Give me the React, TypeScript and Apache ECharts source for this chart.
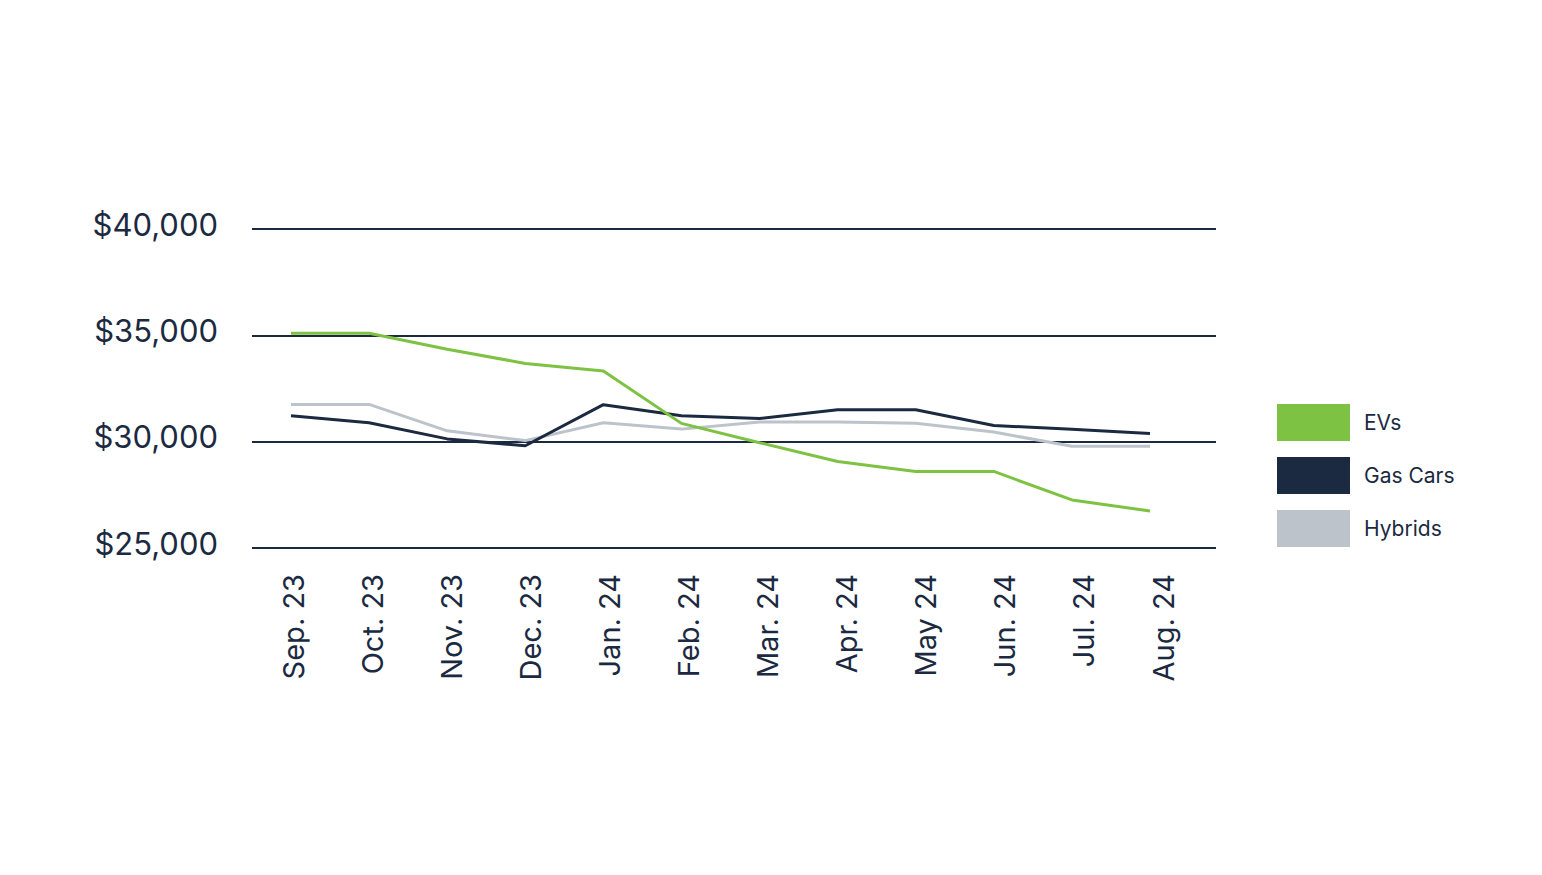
import { useEffect, useRef } from 'react'
import * as echarts from 'echarts'

const months = [
  'Sep. 23', 'Oct. 23', 'Nov. 23', 'Dec. 23', 'Jan. 24', 'Feb. 24',
  'Mar. 24', 'Apr. 24', 'May 24', 'Jun. 24', 'Jul. 24', 'Aug. 24',
]
const evPrices = [35100, 35100, 34350, 33680, 33320, 30860, 29950, 29070, 28600, 28600, 27260, 26740]
const gasPrices = [31220, 30890, 30130, 29810, 31740, 31220, 31090, 31500, 31500, 30760, 30580, 30380]
const hybridPrices = [31750, 31750, 30510, 30050, 30890, 30590, 30920, 30920, 30870, 30450, 29780, 29780]
const yTicks = [25000, 30000, 35000, 40000]

const NAVY = '#1b2a41'
const GREEN = '#7dc242'
const GRAY = '#bcc3cb'
const FONT = 'Inter, "Noto Sans", sans-serif'

export default function App() {
  const ref = useRef<HTMLDivElement | null>(null)

  useEffect(() => {
    if (!ref.current) return
    const chart = echarts.init(ref.current, undefined, { renderer: 'svg' })

    const line = (name: string, data: number[], color: string) => ({
      name,
      type: 'line' as const,
      xAxisIndex: 1,
      yAxisIndex: 1,
      data,
      symbol: 'none',
      lineStyle: { color, width: 3 },
      itemStyle: { color },
      z: name === 'EVs' ? 4 : 3,
    })

    const hiddenY = (gridIndex: number) => ({
      gridIndex,
      type: 'value' as const,
      min: yTicks[0],
      max: yTicks[yTicks.length - 1],
      show: false,
    })

    chart.setOption({
      animation: false,
      backgroundColor: '#ffffff',
      textStyle: { fontFamily: FONT, color: NAVY },
      grid: [
        // gridlines + y labels
        { left: 252, right: 326, top: 229, bottom: 327 },
        // data lines
        { left: 291, right: 392, top: 229, bottom: 327 },
        // month labels
        { left: 293, right: 379, top: 229, bottom: 327 },
      ],
      xAxis: [
        { gridIndex: 0, type: 'value', show: false, min: 0, max: 1 },
        { gridIndex: 1, type: 'category', data: months, boundaryGap: false, show: false },
        {
          gridIndex: 2,
          type: 'category',
          data: months,
          boundaryGap: false,
          axisLine: { show: false },
          axisTick: { show: false },
          splitLine: { show: false },
          axisLabel: {
            rotate: 90,
            margin: 26,
            fontSize: 29,
            color: NAVY,
            fontFamily: FONT,
            interval: 0,
          },
        },
      ],
      yAxis: [
        {
          gridIndex: 0,
          type: 'value',
          min: yTicks[0],
          max: yTicks[yTicks.length - 1],
          interval: 5000,
          axisLine: { show: false },
          axisTick: { show: false },
          axisLabel: {
            margin: 34,
            color: NAVY,
            fontFamily: FONT,
            formatter: (v: number) => '{p|$' + v.toLocaleString('en-US') + '}',
            rich: {
              p: { fontSize: 31, color: NAVY, fontFamily: FONT, padding: [0, 0, 10, 0] },
            },
          },
          splitLine: { show: true, lineStyle: { color: NAVY, width: 2 } },
        },
        hiddenY(1),
        hiddenY(2),
      ],
      legend: {
        orient: 'vertical',
        left: 1277,
        top: 404,
        padding: 0,
        itemWidth: 73,
        itemHeight: 37,
        itemGap: 16,
        icon: 'rect',
        textStyle: { fontSize: 21, color: NAVY, fontFamily: FONT, padding: [0, 0, 0, 9] },
        data: ['EVs', 'Gas Cars', 'Hybrids'],
      },
      series: [
        line('Hybrids', hybridPrices, GRAY),
        line('Gas Cars', gasPrices, NAVY),
        line('EVs', evPrices, GREEN),
      ],
    })

    return () => chart.dispose()
  }, [])

  return (
    <div
      ref={ref}
      style={{ position: 'fixed', left: 0, top: 0, width: 1542, height: 875, background: '#fff' }}
    />
  )
}
